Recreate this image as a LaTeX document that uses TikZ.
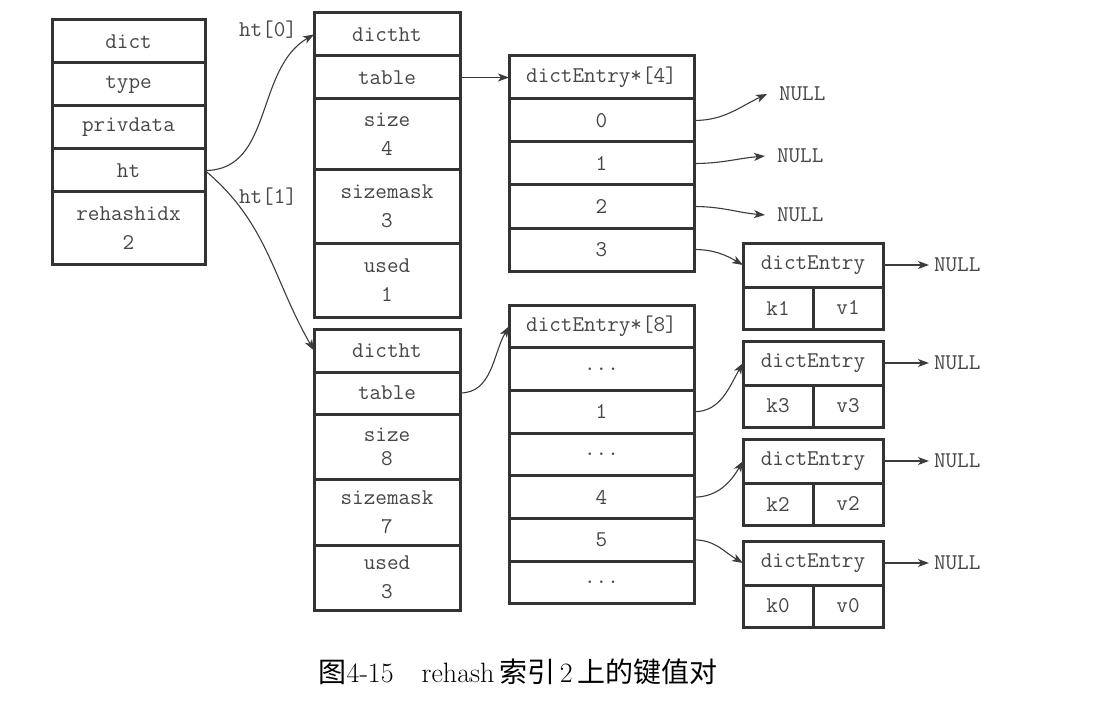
\documentclass[tikz,border=0pt]{standalone}
\usepackage{fontspec}
\newfontfamily\cjk{Noto Sans CJK SC}
\usepackage{tikz}
\usetikzlibrary{arrows.meta,positioning}
\definecolor{boxline}{RGB}{51,51,51}
\definecolor{celltext}{RGB}{70,70,70}
\definecolor{linkgrey}{RGB}{60,60,60}
\newcommand\gapdots{...}
\tikzset{
  base/.style={font=\ttfamily\fontsize{22.5}{29}\selectfont, text=celltext, align=center, inner sep=0pt, outer sep=0pt},
  cell/.style={base, rectangle, draw=boxline, line width=3pt, minimum height=43pt},
  dictcell/.style={cell, minimum width=153pt},
  htcell/.style={cell, minimum width=146pt},
  tabcell/.style={cell, minimum width=185pt},
  entcell/.style={cell, minimum width=140pt, minimum height=44pt},
  kvcell/.style={cell, minimum width=70pt, minimum height=42pt},
  nul/.style={base, inner xsep=5pt},
  lbl/.style={base},
  arr/.style={-{Stealth[length=11pt,width=8pt,inset=3pt]}, line width=1.1pt, draw=linkgrey},
  caption/.style={font=\fontsize{28}{32}\selectfont, text=black},
}
\begin{document}
\begin{tikzpicture}[x=1pt,y=-1pt]
  \useasboundingbox (0,0) rectangle (1113,714);
  % dict
  \node[dictcell,anchor=north west] (dict) at (52,20) {dict};
  \node[dictcell,below=0pt of dict] (dtype) {type};
  \node[dictcell,below=0pt of dtype] (dpriv) {privdata};
  \node[dictcell,below=0pt of dpriv] (dht) {ht};
  \node[dictcell,below=0pt of dht,minimum height=72pt] (drehash) {rehashidx\\2};
  % ht[0]
  \node[htcell,anchor=north west] (h0) at (314,13) {dictht};
  \node[htcell,below=0pt of h0] (h0tab) {table};
  \node[htcell,below=0pt of h0tab,minimum height=71pt] (h0size) {size\\4};
  \node[htcell,below=0pt of h0size,minimum height=73pt] (h0mask) {sizemask\\3};
  \node[htcell,below=0pt of h0mask,minimum height=74pt] (h0used) {used\\1};
  % ht[1]
  \node[htcell,anchor=north west] (h1) at (314,329) {dictht};
  \node[htcell,below=0pt of h1,minimum height=42pt] (h1tab) {table};
  \node[htcell,below=0pt of h1tab,minimum height=65pt,font=\ttfamily\fontsize{22.5}{24}\selectfont] (h1size) {size\\8};
  \node[htcell,below=0pt of h1size,minimum height=66pt] (h1mask) {sizemask\\7};
  \node[htcell,below=0pt of h1mask,minimum height=65pt] (h1used) {used\\3};
  % dictEntry*[4]
  \node[tabcell,anchor=north west] (ta) at (509,56) {dictEntry*[4]};
  \foreach \i/\prev in {0/ta,1/ta0,2/ta1,3/ta2}
    \node[tabcell,below=0pt of \prev] (ta\i) {\i};
  % dictEntry*[8]
  \node[tabcell,anchor=north west,minimum height=42.7pt] (tb) at (509,305) {dictEntry*[8]};
  \foreach \i/\t/\prev in {1/\gapdots/tb,2/1/tb1,3/\gapdots/tb2,4/4/tb3,5/5/tb4,6/\gapdots/tb5}
    \node[tabcell,below=0pt of \prev,minimum height=42.7pt] (tb\i) {\t};
  % entries
  \foreach \n/\y/\k in {1/243/1,2/341/3,3/439/2,4/541/0}{
    \node[entcell,anchor=north west] (e\n) at (743,\y) {dictEntry};
    \node[kvcell,anchor=north west] (e\n k) at (e\n.south west) {k\k};
    \node[kvcell,anchor=north east] (e\n v) at (e\n.south east) {v\k};
    \node[nul,right=46pt of e\n] (e\n null) {NULL};
    \draw[arr] (e\n) -- (e\n null);
  }
  \node[nul,anchor=west,inner xsep=12pt] (n0) at (767,94) {NULL};
  \node[nul,anchor=west,inner xsep=12pt] (n1) at (765,156) {NULL};
  \node[nul,anchor=west,inner xsep=12pt] (n2) at (765,215) {NULL};
  \node[lbl] (l0) at (268,30) {ht[0]};
  \node[lbl] (l1) at (268,197) {ht[1]};
  \draw[arr] (dht.east) to[out=0,in=210] (h0.west);
  \draw[arr] (dht.east) to[out=-40,in=120] (h1.west);
  \draw[arr] (h0tab) -- (ta);
  \draw[arr] (h1tab.east) to[out=0,in=240] (tb.west);
  \foreach \a/\b/\o in {ta0/n0/205,ta1/n1/185,ta2/n2/175}{\draw[arr] (\a.east) to[out=0,in=\o] (\b.west);}
  \foreach \a/\b/\o in {ta3/e1/150,tb2/e2/240,tb4/e3/240,tb5/e4/150}{\draw[arr] (\a.east) to[out=0,in=\o] (\b.west);}
  \node[caption] (cap) at (518,672) {{\cjk 图}4-15\hspace{1em}rehash\,{\cjk 索引}\,2\,{\cjk 上的键值对}};
\end{tikzpicture}
\end{document}
